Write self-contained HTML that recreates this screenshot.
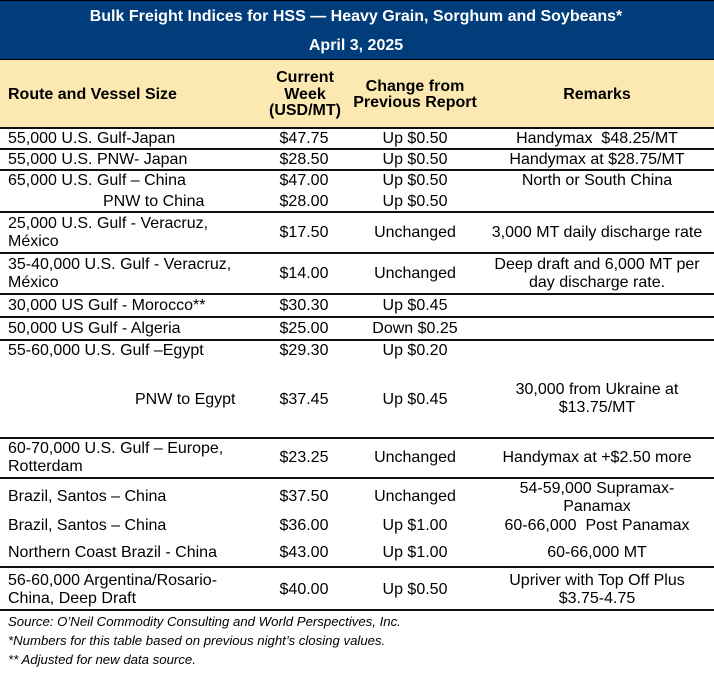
<!DOCTYPE html>
<html>
<head>
<meta charset="utf-8">
<style>
  html,body{margin:0;padding:0;background:#fff;}
  body{width:714px;height:673px;position:relative;overflow:hidden;font-family:"Liberation Sans",Arial,sans-serif;color:#000;}
  .t{position:absolute;white-space:nowrap;font-size:16px;line-height:18px;}
  .b{font-weight:bold;}
  .c1{left:8px;}
  .c2{left:204px;width:200px;text-align:center;}
  .c3{left:315px;width:200px;text-align:center;}
  .c4{left:477px;width:240px;text-align:center;}
  .ln{position:absolute;left:0;width:714px;height:2px;background:#111;}
  .fn{position:absolute;left:8px;white-space:nowrap;font-style:italic;font-size:13.2px;line-height:16px;}
</style>
</head>
<body>
<div style="position:absolute;left:0;top:0;width:714px;height:59px;background:#003d7a;"></div>
<div style="position:absolute;left:0;top:59px;width:714px;height:69px;background:#fce9b2;"></div>
<div style="position:absolute;left:0;top:0;width:714px;height:1px;background:#000;"></div>
<div style="position:absolute;left:0;top:59px;width:714px;height:1px;background:#000;"></div>

<div class="t b" style="left:56px;width:600px;text-align:center;top:8px;color:#fff;">Bulk Freight Indices for HSS — Heavy Grain, Sorghum and Soybeans*</div>
<div class="t b" style="left:56px;width:600px;text-align:center;top:37px;color:#fff;">April 3, 2025</div>

<div class="t b c1" style="top:86px;">Route and Vessel Size</div>
<div class="t b" style="left:205px;width:200px;text-align:center;top:69px;">Current</div>
<div class="t b" style="left:205px;width:200px;text-align:center;top:86px;">Week</div>
<div class="t b" style="left:205px;width:200px;text-align:center;top:102px;">(USD/MT)</div>
<div class="t b c3" style="top:78px;">Change from</div>
<div class="t b c3" style="top:94px;">Previous Report</div>
<div class="t b c4" style="top:86px;">Remarks</div>

<!-- lines -->
<div class="ln" style="top:127px;"></div>
<div class="ln" style="top:148px;"></div>
<div class="ln" style="top:169px;"></div>
<div class="ln" style="top:211px;"></div>
<div class="ln" style="top:252px;"></div>
<div class="ln" style="top:293px;"></div>
<div class="ln" style="top:316px;"></div>
<div class="ln" style="top:339px;"></div>
<div class="ln" style="top:437px;"></div>
<div class="ln" style="top:477px;"></div>
<div class="ln" style="top:566px;"></div>
<div class="ln" style="top:609px;"></div>

<!-- R1 -->
<div class="t c1" style="top:130px;">55,000 U.S. Gulf-Japan</div>
<div class="t c2" style="top:130px;">$47.75</div>
<div class="t c3" style="top:130px;">Up $0.50</div>
<div class="t c4" style="top:130px;">Handymax&nbsp; $48.25/MT</div>
<!-- R2 -->
<div class="t c1" style="top:151px;">55,000 U.S. PNW- Japan</div>
<div class="t c2" style="top:151px;">$28.50</div>
<div class="t c3" style="top:151px;">Up $0.50</div>
<div class="t c4" style="top:151px;">Handymax at $28.75/MT</div>
<!-- R3 -->
<div class="t c1" style="top:172px;">65,000 U.S. Gulf – China</div>
<div class="t c2" style="top:172px;">$47.00</div>
<div class="t c3" style="top:172px;">Up $0.50</div>
<div class="t c4" style="top:172px;">North or South China</div>
<div class="t" style="left:103px;top:193px;">PNW to China</div>
<div class="t c2" style="top:193px;">$28.00</div>
<div class="t c3" style="top:193px;">Up $0.50</div>
<!-- R4 -->
<div class="t c1" style="top:215px;">25,000 U.S. Gulf - Veracruz,</div>
<div class="t c1" style="top:233px;">México</div>
<div class="t c2" style="top:224px;">$17.50</div>
<div class="t c3" style="top:224px;">Unchanged</div>
<div class="t c4" style="top:224px;">3,000 MT daily discharge rate</div>
<!-- R5 -->
<div class="t c1" style="top:256px;">35-40,000 U.S. Gulf - Veracruz,</div>
<div class="t c1" style="top:274px;">México</div>
<div class="t c2" style="top:265px;">$14.00</div>
<div class="t c3" style="top:265px;">Unchanged</div>
<div class="t c4" style="top:256px;">Deep draft and 6,000 MT per</div>
<div class="t c4" style="top:274px;">day discharge rate.</div>
<!-- R6 -->
<div class="t c1" style="top:297px;">30,000 US Gulf - Morocco**</div>
<div class="t c2" style="top:297px;">$30.30</div>
<div class="t c3" style="top:297px;">Up $0.45</div>
<!-- R7 -->
<div class="t c1" style="top:320px;">50,000 US Gulf - Algeria</div>
<div class="t c2" style="top:320px;">$25.00</div>
<div class="t c3" style="top:320px;">Down $0.25</div>
<!-- R8 -->
<div class="t c1" style="top:342px;">55-60,000 U.S. Gulf –Egypt</div>
<div class="t c2" style="top:342px;">$29.30</div>
<div class="t c3" style="top:342px;">Up $0.20</div>
<div class="t" style="left:135px;top:391px;">PNW to Egypt</div>
<div class="t c2" style="top:391px;">$37.45</div>
<div class="t c3" style="top:391px;">Up $0.45</div>
<div class="t c4" style="top:381px;">30,000 from Ukraine at</div>
<div class="t c4" style="top:399px;">$13.75/MT</div>
<!-- R9 -->
<div class="t c1" style="top:440px;">60-70,000 U.S. Gulf – Europe,</div>
<div class="t c1" style="top:458px;">Rotterdam</div>
<div class="t c2" style="top:449px;">$23.25</div>
<div class="t c3" style="top:449px;">Unchanged</div>
<div class="t c4" style="top:449px;">Handymax at +$2.50 more</div>
<!-- R10 -->
<div class="t c1" style="top:488px;">Brazil, Santos – China</div>
<div class="t c2" style="top:488px;">$37.50</div>
<div class="t c3" style="top:488px;">Unchanged</div>
<div class="t c4" style="top:480px;">54-59,000 Supramax-</div>
<div class="t c4" style="top:498px;">Panamax</div>
<!-- R11 -->
<div class="t c1" style="top:517px;">Brazil, Santos – China</div>
<div class="t c2" style="top:517px;">$36.00</div>
<div class="t c3" style="top:517px;">Up $1.00</div>
<div class="t c4" style="top:517px;">60-66,000&nbsp; Post Panamax</div>
<!-- R12 -->
<div class="t c1" style="top:544px;">Northern Coast Brazil - China</div>
<div class="t c2" style="top:544px;">$43.00</div>
<div class="t c3" style="top:544px;">Up $1.00</div>
<div class="t c4" style="top:544px;">60-66,000 MT</div>
<!-- R13 -->
<div class="t c1" style="top:572px;">56-60,000 Argentina/Rosario-</div>
<div class="t c1" style="top:590px;">China, Deep Draft</div>
<div class="t c2" style="top:581px;">$40.00</div>
<div class="t c3" style="top:581px;">Up $0.50</div>
<div class="t c4" style="top:572px;">Upriver with Top Off Plus</div>
<div class="t c4" style="top:590px;">$3.75-4.75</div>

<!-- footnotes -->
<div class="fn" style="top:614px;">Source: O’Neil Commodity Consulting and World Perspectives, Inc.</div>
<div class="fn" style="top:633px;">*Numbers for this table based on previous night’s closing values.</div>
<div class="fn" style="top:652px;">** Adjusted for new data source.</div>
</body>
</html>
